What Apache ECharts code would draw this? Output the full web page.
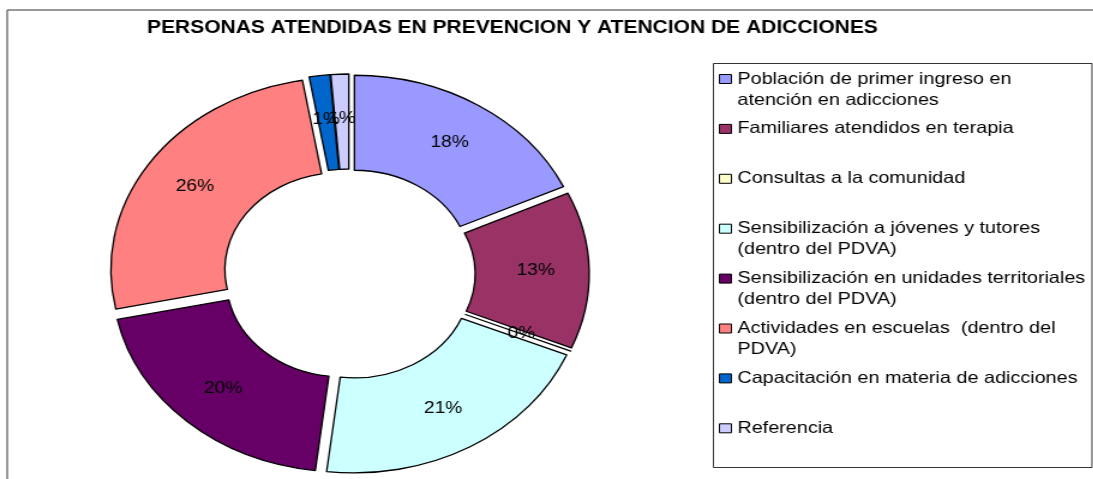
<!DOCTYPE html>
<html>
<head>
<meta charset="utf-8">
<title>Personas atendidas</title>
<script src="https://cdn.jsdelivr.net/npm/echarts@6/dist/echarts.min.js"></script>
<style>
  html, body { margin: 0; padding: 0; background: #fff; overflow: hidden; }
  /* the original picture is stretched sideways, so the chart is too */
  #main { width: 911px; height: 479px; transform: scaleX(1.2); transform-origin: 0 0; }
</style>
</head>
<body>
<div id="main"></div>
<script>
const titleText = 'PERSONAS ATENDIDAS EN PREVENCION Y ATENCION DE ADICCIONES';
const categories = [
  'Población de primer ingreso en\natención en adicciones',
  'Familiares atendidos en terapia',
  'Consultas a la comunidad',
  'Sensibilización a jóvenes y tutores\n(dentro del PDVA)',
  'Sensibilización en unidades territoriales\n(dentro del PDVA)',
  'Actividades en escuelas  (dentro del\nPDVA)',
  'Capacitación en materia de adicciones',
  'Referencia'
];
const values = [18.1, 13.2, 0, 20.6, 19.8, 25.6, 1.45, 1.25];
const colors = ['#9999FF', '#993366', '#FFFFCC', '#CCFFFF', '#660066', '#FF8080', '#0066CC', '#CCCCFF'];

const FONT = '"Liberation Sans", Arial, sans-serif';
const chart = echarts.init(document.getElementById('main'), null, { renderer: 'canvas' });

// one legend per row so every row sits in its own 50px slot;
// two-line names get an empty line on top so the box lines up with the first line
const lineH = 21;
const legends = categories.map((name, i) => {
  const twoLines = name.indexOf('\n') >= 0;
  return {
    orient: 'vertical',
    left: 599,
    top: 79 + i * 49.9 - (twoLines ? 1.5 : 0.5) * lineH,
    padding: 0,
    itemWidth: 10,
    itemHeight: 9,
    itemGap: 0,
    icon: 'rect',
    selectedMode: false,
    data: [name],
    formatter: n => (twoLines ? '\n' + n : n),
    itemStyle: { borderColor: '#000', borderWidth: 1 },
    textStyle: { fontSize: 16.5, lineHeight: lineH, color: '#000', fontFamily: FONT }
  };
});

chart.setOption({
  animation: false,
  backgroundColor: '#fff',
  title: {
    text: titleText,
    left: 427,
    top: 18,
    textAlign: 'center',
    padding: 0,
    textStyle: { fontSize: 17.5, fontWeight: 'bold', color: '#000', fontFamily: FONT, lineHeight: 20 }
  },
  legend: legends,
  graphic: [
    { type: 'rect', z: -1, shape: { x: 6, y: 10, width: 1000, height: 1000 },
      style: { fill: 'none', stroke: '#333', lineWidth: 1 } },
    { type: 'rect', z: -1, shape: { x: 594.5, y: 63.5, width: 315.5, height: 404 },
      style: { fill: 'none', stroke: '#333', lineWidth: 1 } }
  ],
  series: [
    {
      name: 'Personas',
      type: 'pie',
      center: [291, 274],
      radius: [97, 192],
      startAngle: 90,
      clockwise: true,
      selectedMode: 'multiple',
      selectedOffset: 8,
      avoidLabelOverlap: false,
      label: {
        position: 'inside',
        formatter: p => Math.round(p.percent) + '%',
        fontSize: 16,
        color: '#000',
        fontFamily: FONT
      },
      labelLine: { show: false },
      labelLayout: { hideOverlap: false },
      itemStyle: { borderColor: '#000', borderWidth: 1.3 },
      emphasis: { disabled: true },
      select: { itemStyle: { borderColor: '#000', borderWidth: 1.3 } },
      data: categories.map((name, i) => ({
        name: name,
        value: values[i],
        selected: true,
        itemStyle: { color: colors[i], borderWidth: values[i] === 0 ? 0 : 1.3 }
      }))
    }
  ]
});
</script>
</body>
</html>
